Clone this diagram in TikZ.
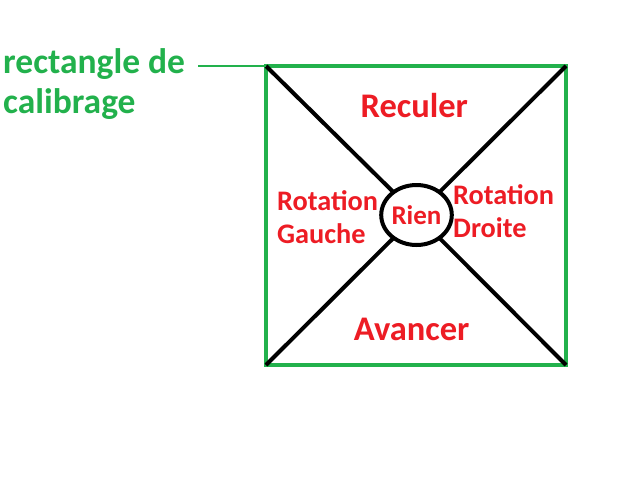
\documentclass[tikz,border=0pt]{standalone}
\usepackage{fontspec}
\setmainfont{Carlito}
\usetikzlibrary{shapes.geometric}
\definecolor{pgreen}{RGB}{34,177,76}
\definecolor{pred}{RGB}{237,28,36}
\begin{document}
\begin{tikzpicture}[x=1pt,y=-1pt,
  frame/.style={draw=pgreen,line width=4.5pt,minimum width=300pt,minimum height=299pt,inner sep=0pt,outer sep=0pt},
  diag/.style={draw=black,line width=4pt},
  big/.style={text=pred,font=\fontsize{34.5}{40}\selectfont\bfseries,inner sep=0pt},
  mid/.style={text=pred,font=\fontsize{28.3}{33.3}\selectfont\bfseries,inner sep=0pt,align=left},
  lbl/.style={text=pgreen,font=\fontsize{35.5}{40}\selectfont\bfseries,inner sep=0pt,align=left}]
\useasboundingbox (0,0) rectangle (640,480);
\fill[white] (0,0) rectangle (640,480);
\node[frame] (rect) at (416,215.5) {};
\node[ellipse,draw=black,line width=4pt,minimum width=66pt,minimum height=60pt,inner sep=0pt,outer sep=0pt,
  text=pred,font=\fontsize{27}{33}\selectfont\bfseries] (c) at (416.5,215) {Rien};
\draw[diag] (rect.north west) -- (c);
\draw[diag] (rect.north east) -- (c);
\draw[diag] (rect.south west) -- (c);
\draw[diag] (rect.south east) -- (c);
\node[big,anchor=base] (rec) at (414.3,117.3) {Reculer};
\node[big,anchor=base] (ava) at (411.7,340) {Avancer};
\node[mid,anchor=base west] (rg) at (277,243.3) {Rotation\\Gauche};
\node[mid,anchor=base west] (rd) at (453,237.7) {Rotation\\Droite};
\node[lbl,anchor=base west] (lab) at (3,113.3) {rectangle de\\calibrage};
\coordinate (ls) at (198,66);
\draw[pgreen,line width=2pt] (ls) -- (rect.north west);
\end{tikzpicture}
\end{document}
